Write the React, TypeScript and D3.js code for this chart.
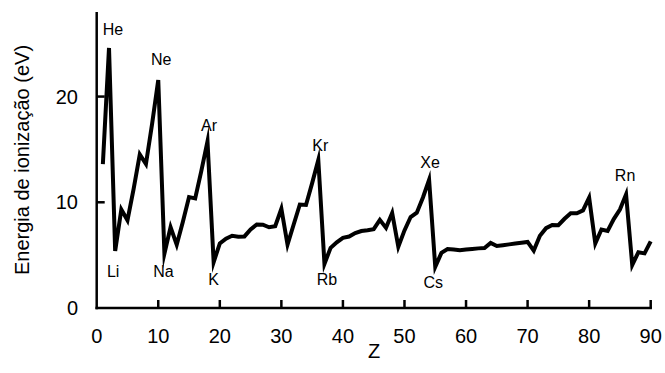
import React from "react";
import * as d3 from "d3";

const zValues: number[] = d3.range(1, 91);
const energies: number[] = [
  13.6, 24.6, 5.39, 9.32, 8.3, 11.26, 14.53, 13.62, 17.42, 21.56,
  5.14, 7.65, 5.99, 8.15, 10.49, 10.36, 12.97, 15.76, 4.34, 6.11,
  6.56, 6.83, 6.75, 6.77, 7.43, 7.9, 7.88, 7.64, 7.73, 9.39,
  6.0, 7.9, 9.79, 9.75, 11.81, 14.0, 4.18, 5.69, 6.22, 6.63,
  6.76, 7.09, 7.28, 7.36, 7.46, 8.34, 7.58, 8.99, 5.79, 7.34,
  8.61, 9.01, 10.45, 12.13, 3.89, 5.21, 5.58, 5.54, 5.47, 5.53,
  5.58, 5.64, 5.67, 6.15, 5.86, 5.94, 6.02, 6.11, 6.18, 6.25,
  5.43, 6.83, 7.55, 7.86, 7.83, 8.44, 8.97, 8.96, 9.23, 10.44,
  6.11, 7.42, 7.29, 8.41, 9.32, 10.75, 4.07, 5.28, 5.17, 6.31,
];
const xTicks: number[] = [0, 10, 20, 30, 40, 50, 60, 70, 80, 90];
const yTicks: number[] = [0, 10, 20];
const peakLabels: string[] = ["He", "Ne", "Ar", "Kr", "Xe", "Rn"];
const peakZ: number[] = [2, 10, 18, 36, 54, 86];
const dipLabels: string[] = ["Li", "Na", "K", "Rb", "Cs"];
const dipZ: number[] = [3, 11, 19, 37, 55];

const W = 665;
const H = 373;
const FONT = "'Liberation Sans', Arial, sans-serif";

export default function App() {
  const x = d3.scaleLinear().domain([0, 90]).range([96.7, 650.7]);
  const y = d3.scaleLinear().domain([0, 28]).range([308, 12]);
  const line = d3
    .line<number>()
    .x((_, i) => x(zValues[i]))
    .y((d) => y(d));

  const peakOffsets: [number, number][] = [
    [4, -13],
    [3, -15],
    [1.5, -10],
    [2, -9],
    [1, -12],
    [-1, -13],
  ];
  const dipOffsets: [number, number][] = [
    [-2, 26],
    [-1, 23],
    [0, 23],
    [2.5, 21],
    [-2, 21],
  ];

  return (
    <svg
      width={W}
      height={H}
      style={{ position: "absolute", left: 0, top: 0, background: "#fff" }}
      fontFamily={FONT}
    >
      <rect width={W} height={H} fill="#fff" />
      {/* axes */}
      <line x1={x(0)} x2={x(0)} y1={12} y2={y(0) + 1.25} stroke="#000" strokeWidth={2.5} />
      <line x1={x(0) - 1.25} x2={x(90) + 1.25} y1={y(0)} y2={y(0)} stroke="#000" strokeWidth={2.5} />
      {xTicks.map((t) => (
        <g key={"x" + t}>
          {t > 0 && (
            <line x1={x(t)} x2={x(t)} y1={y(0)} y2={y(0) - 8} stroke="#000" strokeWidth={2.5} />
          )}
          <text x={x(t)} y={343} textAnchor="middle" fontSize={20} fill="#000">
            {t}
          </text>
        </g>
      ))}
      {yTicks.map((t) => (
        <g key={"y" + t}>
          {t > 0 && (
            <line x1={x(0)} x2={x(0) + 8} y1={y(t)} y2={y(t)} stroke="#000" strokeWidth={2.5} />
          )}
          <text x={78} y={y(t) + 7} textAnchor="end" fontSize={20} fill="#000">
            {t}
          </text>
        </g>
      ))}
      <text x={374} y={358} textAnchor="middle" fontSize={20} fill="#000">
        Z
      </text>
      <text
        transform={`translate(29, 160) rotate(-90)`}
        textAnchor="middle"
        fontSize={20}
        fill="#000"
      >
        Energia de ionização (eV)
      </text>
      {/* data line */}
      <path
        d={line(energies) || ""}
        fill="none"
        stroke="#000"
        strokeWidth={4}
        strokeLinejoin="miter"
        strokeMiterlimit={10}
      />
      {peakLabels.map((lab, i) => (
        <text
          key={lab}
          x={x(peakZ[i]) + peakOffsets[i][0]}
          y={y(energies[peakZ[i] - 1]) + peakOffsets[i][1]}
          textAnchor="middle"
          fontSize={16}
          fill="#000"
        >
          {lab}
        </text>
      ))}
      {dipLabels.map((lab, i) => (
        <text
          key={lab}
          x={x(dipZ[i]) + dipOffsets[i][0]}
          y={y(energies[dipZ[i] - 1]) + dipOffsets[i][1]}
          textAnchor="middle"
          fontSize={16}
          fill="#000"
        >
          {lab}
        </text>
      ))}
    </svg>
  );
}
